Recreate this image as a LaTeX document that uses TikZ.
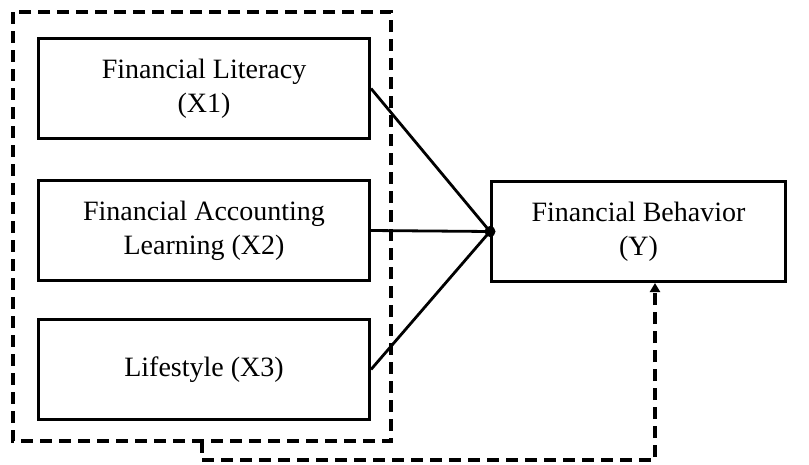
\documentclass[tikz,border=0pt]{standalone}
\usepackage{fontspec}
\setmainfont{Liberation Serif}
\usetikzlibrary{arrows.meta}
\begin{document}
\begin{tikzpicture}[x=1pt,y=-1pt,
  box/.style={draw,line width=3pt,minimum width=331pt,minimum height=100pt,align=center,font=\fontsize{28}{34}\selectfont,anchor=north west,inner sep=0pt},
  rbox/.style={box,minimum width=294pt,minimum height=100pt},
  dashline/.style={line width=3.4pt,dash pattern=on 12pt off 7pt},
  link/.style={line width=2.8pt}]
\useasboundingbox (0,0) rectangle (809,464);
\node[box] (x1) at (37,37) {Financial Literacy\\(X1)};
\node[box] (x2) at (37,179) {Financial Accounting\\Learning (X2)};
\node[box] (x3) at (37,318) {Lifestyle (X3)};
\node[rbox] (y) at (490,180) {Financial Behavior\\(Y)};
\coordinate (m) at (y.west);
\draw[link] (x1.east) -- (m);
\draw[link] (x2.east) -- (m);
\draw[link] (x3.east) -- (m);
\fill (m) circle (5.5pt);
\draw[dashline] (13,12) rectangle (391,441);
\coordinate (b1) at (202,441);
\coordinate (b2) at (202,460);
\coordinate (b3) at (655,460);
\draw[dashline,-{Triangle[length=9pt,width=10pt]}] (b1) -- (b2) -- (b3) -- (y.south -| b3);
\end{tikzpicture}
\end{document}
